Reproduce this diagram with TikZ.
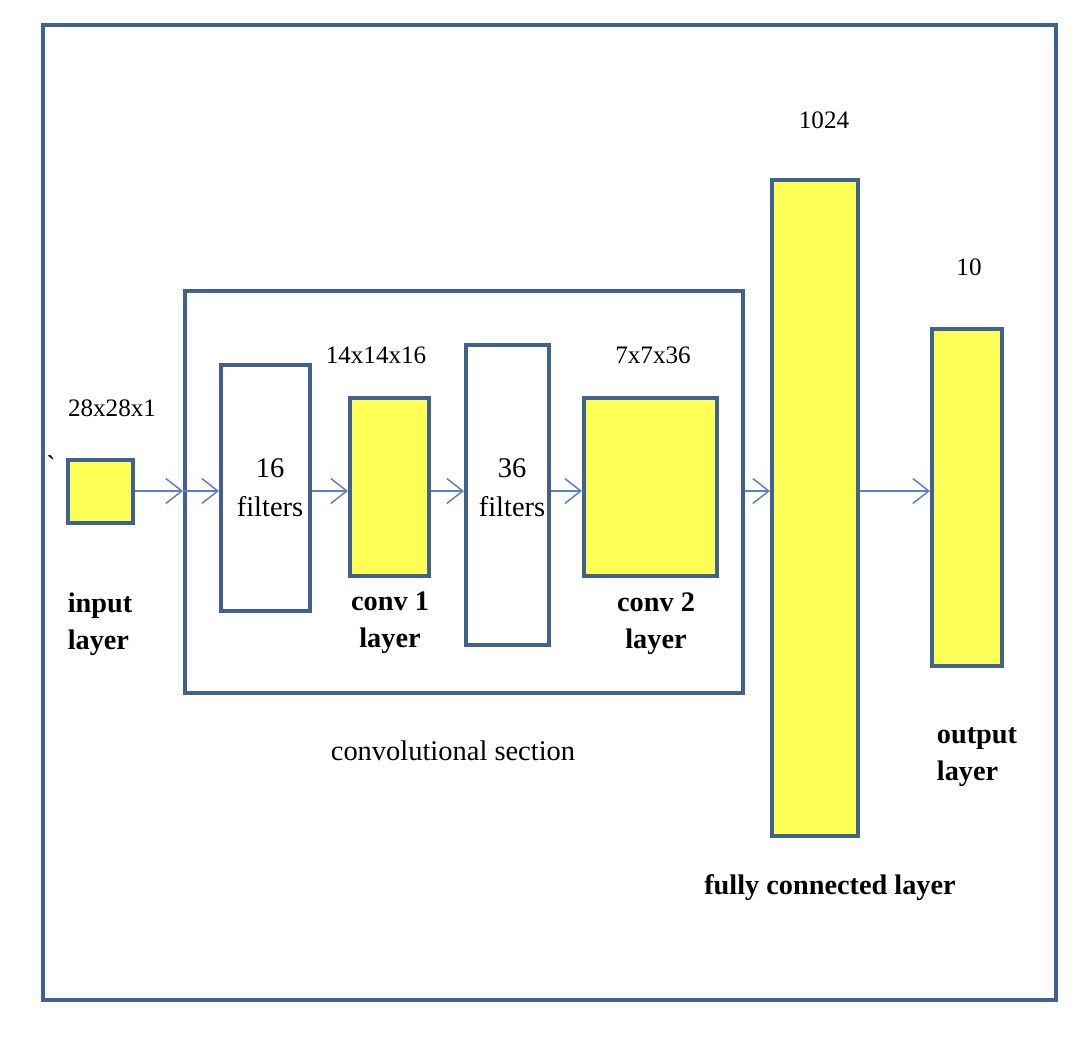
\documentclass[tikz,border=0pt]{standalone}
\usepackage{fontspec}
\setmainfont{Liberation Serif}
\usepackage{xcolor}
\usetikzlibrary{arrows.meta, positioning}
\definecolor{edgeblue}{HTML}{43618E}
\definecolor{layeryellow}{HTML}{FFFF55}
\definecolor{arrowblue}{HTML}{5B82BE}

\begin{document}
\begin{tikzpicture}[
    x=0.02cm, y=-0.02cm,
    outline/.style={rectangle, draw=edgeblue, line width=2.27pt, inner sep=0pt},
    layer/.style={outline, fill=layeryellow},
    filterbox/.style={outline, fill=white},
    dims/.style={font=\fontsize{14.3}{17}\selectfont},
    txt/.style={font=\fontsize{16.2}{22}\selectfont, align=center},
    bold/.style={font=\fontsize{16.1}{21}\selectfont\bfseries, align=left},
    arrow/.style={-{Straight Barb[length=3.2mm, width=5mm]}, draw=arrowblue, line width=0.85pt}
  ]
    \useasboundingbox (0,0) rectangle (1090,1040);
    \node[outline, minimum width=20.26cm, minimum height=19.5cm] (frame) at (549.5,512.5) {};

    % convolutional section
    \node[outline, minimum width=11.16cm, minimum height=8.04cm] (convsec) at (464,492) {};
    \node[txt] (convsectxt) at (453,751) {convolutional section};

    % layers
    \node[layer, minimum width=1.3cm, minimum height=1.26cm] (input) at (100.5,491.5) {};
    \node[filterbox, minimum width=1.78cm, minimum height=4.92cm] (filt1) at (265.5,488) {};
    \node[layer, minimum width=1.58cm, minimum height=3.56cm] (conv1) at (389.5,487) {};
    \node[filterbox, minimum width=1.66cm, minimum height=6cm] (filt2) at (507.5,495) {};
    \node[layer, minimum width=2.66cm, minimum height=3.56cm] (conv2) at (650.5,487) {};
    \node[layer, minimum width=1.72cm, minimum height=13.12cm] (fc) at (815,508) {};
    \node[layer, minimum width=1.4cm, minimum height=6.74cm] (out) at (967,497.5) {};

    % labels
    \node[txt] (tick) at (51,466) {\textasciigrave};
    \node[dims] (inputdim) at (112,408) {28x28x1};
    \node[dims] (conv1dim) at (376,355) {14x14x16};
    \node[dims] (conv2dim) at (653,355) {7x7x36};
    \node[dims] (fcdim) at (824,120) {1024};
    \node[dims] (outdim) at (969,267) {10};
    \node[txt] (filt1txt) at (270,488) {16\\filters};
    \node[txt] (filt2txt) at (512,488) {36\\filters};
    \node[bold] (inputtxt) at (100,624) {input\\layer};
    \node[bold, align=center] (conv1txt) at (390,623) {conv 1\\layer};
    \node[bold, align=center] (conv2txt) at (656,624) {conv 2\\layer};
    \node[bold] (fctxt) at (830,888) {fully connected layer};
    \node[bold] (outtxt) at (977,757) {output\\layer};

    % arrows
    \coordinate (mid) at (0,491);
    \draw[arrow] (input.east |- mid) -- (convsec.west |- mid);
    \draw[arrow] (convsec.west |- mid) -- (filt1.west |- mid);
    \draw[arrow] (filt1.east |- mid) -- (conv1.west |- mid);
    \draw[arrow] (conv1.east |- mid) -- (filt2.west |- mid);
    \draw[arrow] (filt2.east |- mid) -- (conv2.west |- mid);
    \draw[arrow] (convsec.east |- mid) -- (fc.west |- mid);
    \draw[arrow] (fc.east |- mid) -- (out.west |- mid);
  \end{tikzpicture}
\end{document}
